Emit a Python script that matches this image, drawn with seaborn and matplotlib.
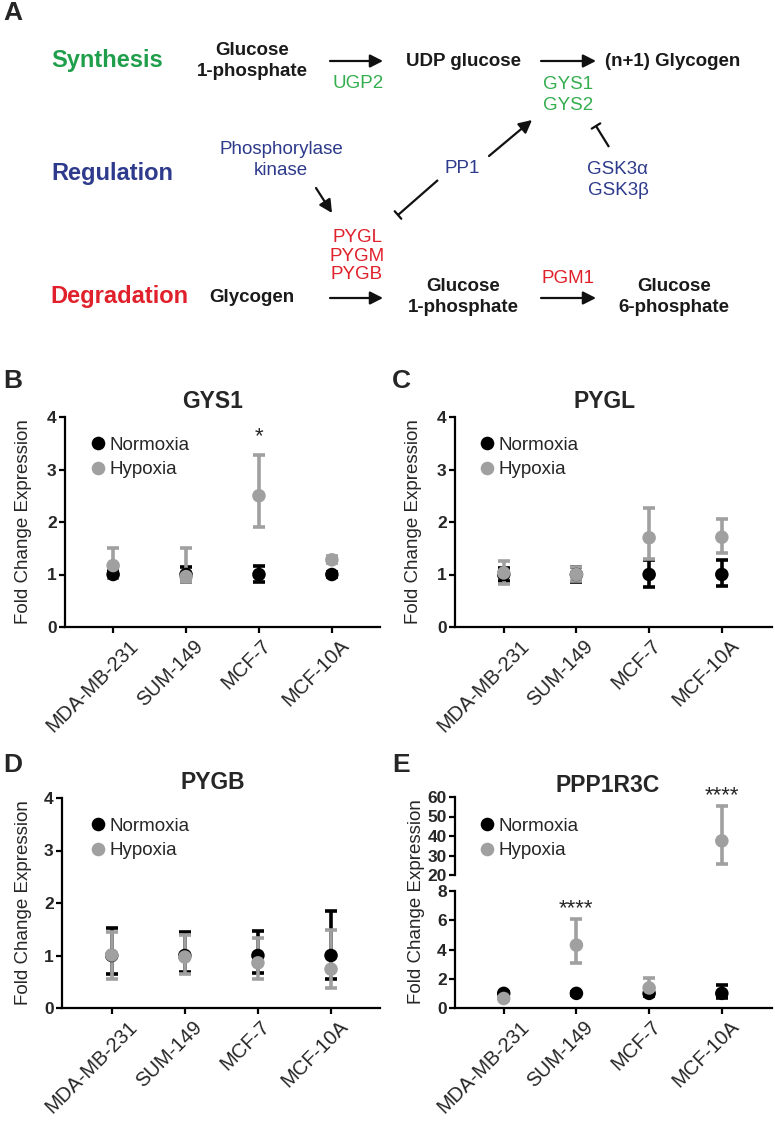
import numpy as np
import pandas as pd
import matplotlib
matplotlib.use("Agg")
import matplotlib.pyplot as plt
import matplotlib.transforms as mtransforms
from matplotlib.lines import Line2D
import seaborn as sns

# ---------------- data ----------------
cell_lines = ["MDA-MB-231", "SUM-149", "MCF-7", "MCF-10A"]
conditions = ["Normoxia", "Hypoxia"]

# GYS1
gys1_norm = [1.0, 1.0, 1.0, 1.0]
gys1_norm_lo = [0.93, 0.85, 0.86, 0.95]
gys1_norm_hi = [1.07, 1.14, 1.16, 1.05]
gys1_hyp = [1.17, 0.96, 2.5, 1.28]
gys1_hyp_lo = [0.93, 0.85, 1.9, 1.22]
gys1_hyp_hi = [1.50, 1.50, 3.27, 1.36]

# PYGL
pygl_norm = [1.0, 1.0, 1.0, 1.0]
pygl_norm_lo = [0.88, 0.85, 0.77, 0.78]
pygl_norm_hi = [1.12, 1.14, 1.28, 1.27]
pygl_hyp = [1.03, 1.0, 1.7, 1.71]
pygl_hyp_lo = [0.82, 0.87, 1.30, 1.41]
pygl_hyp_hi = [1.26, 1.15, 2.27, 2.06]

# PYGB
pygb_norm = [1.0, 1.0, 1.0, 1.0]
pygb_norm_lo = [0.65, 0.69, 0.67, 0.55]
pygb_norm_hi = [1.52, 1.45, 1.47, 1.85]
pygb_hyp = [1.01, 0.97, 0.86, 0.74]
pygb_hyp_lo = [0.55, 0.65, 0.55, 0.38]
pygb_hyp_hi = [1.45, 1.40, 1.34, 1.48]

# PPP1R3C
ppp_norm = [1.0, 1.0, 1.0, 1.0]
ppp_norm_lo = [0.92, 0.88, 0.85, 0.68]
ppp_norm_hi = [1.08, 1.12, 1.15, 1.55]
ppp_hyp = [0.65, 4.3, 1.37, 37.5]
ppp_hyp_lo = [0.55, 3.05, 0.9, 25.6]
ppp_hyp_hi = [0.75, 6.1, 2.02, 55.4]

# significance marks: (cell line, y position, text)
gys1_sig = [("MCF-7", 3.62, "*")]
ppp_sig_lower = [("SUM-149", 6.8, "****")]
ppp_sig_upper = [("MCF-10A", 60.6, "****")]

# ---------------- style ----------------
sns.set_style("ticks")
plt.rcParams["font.family"] = ["Liberation Sans", "DejaVu Sans"]
plt.rcParams["axes.linewidth"] = 1.6

BLACK = "#000000"
GRAY = "#a0a0a0"
GREEN = "#1f9e4b"
GREEN2 = "#35ae4f"
BLUE = "#2e3b8c"
RED = "#e0202a"

W, H = 775, 1122
fig = plt.figure(figsize=(W / 100, H / 100), dpi=100)


def rect(l, t, r, b):
    return [l / W, 1 - b / H, (r - l) / W, (b - t) / H]


# overlay axes in pixel coordinates for the pathway diagram and panel letters
ov = fig.add_axes([0, 0, 1, 1], zorder=-5)
ov.set_xlim(0, W)
ov.set_ylim(H, 0)
ov.axis("off")

# panel letters
for letter, (x, y) in {"A": (13, 13), "B": (13, 381), "C": (401, 381),
                       "D": (13, 765), "E": (401, 765)}.items():
    ov.text(x, y, letter, fontsize=19, fontweight="bold", ha="center", va="center")

# ---------------- panel A diagram ----------------
lab_kw = dict(fontsize=17, fontweight="bold", ha="left", va="center")
ov.text(51, 60, "Synthesis", color=GREEN, **lab_kw)
ov.text(51, 173, "Regulation", color=BLUE, **lab_kw)
ov.text(50, 296, "Degradation", color=RED, **lab_kw)

met_kw = dict(fontsize=13.5, fontweight="bold", ha="center", va="center",
              color="#1a1a1a", linespacing=1.25)
ov.text(252, 61, "Glucose\n1-phosphate", **met_kw)
ov.text(463, 61, "UDP glucose", **met_kw)
ov.text(673, 61, "(n+1) Glycogen", **met_kw)
ov.text(252, 297, "Glycogen", **met_kw)
ov.text(463, 297, "Glucose\n1-phosphate", **met_kw)
ov.text(674, 297, "Glucose\n6-phosphate", **met_kw)

gene_kw = dict(fontsize=13.5, ha="center", va="center", linespacing=1.25)
ov.text(358, 83, "UGP2", color=GREEN2, **gene_kw)
ov.text(568, 95, "GYS1\nGYS2", color=GREEN2, **gene_kw)
ov.text(281, 160, "Phosphorylase\nkinase", color=BLUE, **gene_kw)
ov.text(462, 168, "PP1", color=BLUE, **gene_kw)
ov.text(618, 180, "GSK3\u03b1\nGSK3\u03b2", color=BLUE, **gene_kw)
ov.text(357, 256, "PYGL\nPYGM\nPYGB", color=RED,
        fontsize=13.5, ha="center", va="center", linespacing=1.15)
ov.text(568, 278, "PGM1", color=RED, **gene_kw)

arrow_kw = dict(arrowstyle="-|>,head_length=0.55,head_width=0.28",
                color="#111111", lw=1.6, shrinkA=0, shrinkB=0, mutation_scale=14)
for (x0, y0), (x1, y1) in [((330, 61), (383, 61)), ((541, 61), (596, 61)),
                           ((330, 298), (383, 298)), ((541, 298), (596, 298)),
                           ((489, 156), (532, 120)), ((316, 188), (332, 213))]:
    ov.annotate("", xy=(x1, y1), xytext=(x0, y0), arrowprops=arrow_kw)

for (x0, y0), (x1, y1) in [((609, 147), (596, 126)), ((438, 180), (398, 215))]:
    ov.plot([x0, x1], [y0, y1], color="#111111", lw=1.6, solid_capstyle="butt")
    d = np.array([x1 - x0, y1 - y0], float)
    d /= np.hypot(*d)
    p = np.array([-d[1], d[0]]) * 5
    ov.plot([x1 - p[0], x1 + p[0]], [y1 - p[1], y1 + p[1]], color="#111111", lw=1.6)


# ---------------- chart helpers ----------------
def make_df(norm, nlo, nhi, hyp, hlo, hhi):
    return pd.DataFrame({
        "line": cell_lines * 2,
        "cond": ["Normoxia"] * 4 + ["Hypoxia"] * 4,
        "val": norm + hyp,
        "lo": nlo + hlo,
        "hi": nhi + hhi,
    })


def draw(ax, df):
    sns.scatterplot(data=df, x="line", y="val", hue="cond", hue_order=conditions,
                    palette={"Normoxia": BLACK, "Hypoxia": GRAY}, s=95,
                    edgecolor="none", linewidth=0, legend=False, ax=ax, zorder=5)
    for cond, color, z in [("Normoxia", BLACK, 3), ("Hypoxia", GRAY, 4)]:
        sub = df[df["cond"] == cond]
        ax.errorbar(sub["line"], sub["val"],
                    yerr=[sub["val"] - sub["lo"], sub["hi"] - sub["val"]],
                    fmt="none", ecolor=color, elinewidth=2.6, capsize=4.2,
                    capthick=2.6, zorder=z)


label_axes = []


def style_axes(ax, xlim, bottom=True):
    ax.set_xlim(*xlim)
    ax.set_xlabel("")
    ax.set_ylabel("")
    ax.set_facecolor("none")
    sns.despine(ax=ax, bottom=not bottom)
    for s in ["left", "bottom"]:
        ax.spines[s].set_linewidth(1.6)
        ax.spines[s].set_color("black")
    ax.tick_params(axis="y", length=4.5, width=1.6, pad=1.5, labelsize=12.5,
                   color="black")
    for t in ax.get_yticklabels():
        t.set_fontweight("bold")
    if bottom:
        ax.tick_params(axis="x", length=4.5, width=1.6, pad=2, color="black")
        ax.set_xticks(range(len(cell_lines)))
        ax.set_xticklabels(cell_lines, rotation=45, ha="right", va="top",
                           rotation_mode="anchor", fontsize=14.5)
        label_axes.append(ax)
    else:
        ax.tick_params(axis="x", bottom=False, labelbottom=False)


def add_legend(ax, x_left, y_center):
    handles = [Line2D([], [], ls="", marker="o", markersize=9.8,
                      markerfacecolor=c, markeredgewidth=0)
               for c in (BLACK, GRAY)]
    ax.legend(handles, conditions, loc="center left",
              bbox_to_anchor=(x_left / W, 1 - y_center / H),
              bbox_transform=fig.transFigure, frameon=False, fontsize=13.5,
              handlelength=0.6, handletextpad=0.3, labelspacing=0.38,
              borderpad=0, borderaxespad=0)


def add_title(ax, x_frac, text):
    ax.text(x_frac, 1.072, text, transform=ax.transAxes, fontsize=16.5,
            fontweight="bold", ha="center", va="center")


def add_ylabel(ax, x_axes, y_axes=0.5):
    ax.set_ylabel("Fold Change Expression", fontsize=13.5)
    ax.yaxis.set_label_coords(x_axes, y_axes)


# ---------------- panel B ----------------
axB = fig.add_axes(rect(65, 417, 380, 627))
draw(axB, make_df(gys1_norm, gys1_norm_lo, gys1_norm_hi, gys1_hyp, gys1_hyp_lo, gys1_hyp_hi))
axB.set_ylim(0, 4)
axB.set_yticks([0, 1, 2, 3, 4])
style_axes(axB, (-0.66, 3.66))
add_title(axB, 0.47, "GYS1")
add_legend(axB, 92.5, 457.5)
add_ylabel(axB, -0.105)
for line, y, txt in gys1_sig:
    axB.text(cell_lines.index(line), y, txt, fontsize=16, ha="center", va="center")

# ---------------- panel C ----------------
axC = fig.add_axes(rect(455, 417, 772, 627))
draw(axC, make_df(pygl_norm, pygl_norm_lo, pygl_norm_hi, pygl_hyp, pygl_hyp_lo, pygl_hyp_hi))
axC.set_ylim(0, 4)
axC.set_yticks([0, 1, 2, 3, 4])
style_axes(axC, (-0.67, 3.69))
add_title(axC, 0.473, "PYGL")
add_legend(axC, 481.5, 457.5)
add_ylabel(axC, -0.105)

# ---------------- panel D ----------------
axD = fig.add_axes(rect(62, 798, 380, 1008))
draw(axD, make_df(pygb_norm, pygb_norm_lo, pygb_norm_hi, pygb_hyp, pygb_hyp_lo, pygb_hyp_hi))
axD.set_ylim(0, 4)
axD.set_yticks([0, 1, 2, 3, 4])
style_axes(axD, (-0.68, 3.67))
add_title(axD, 0.475, "PYGB")
add_legend(axD, 92.5, 838.5)
add_ylabel(axD, -0.095)

# ---------------- panel E (broken axis) ----------------
dfE = make_df(ppp_norm, ppp_norm_lo, ppp_norm_hi, ppp_hyp, ppp_hyp_lo, ppp_hyp_hi)
axEu = fig.add_axes(rect(455, 797, 772, 875))
axEl = fig.add_axes(rect(455, 891, 772, 1008))
draw(axEu, dfE)
draw(axEl, dfE)
axEu.set_ylim(20, 60)
axEu.set_yticks([20, 30, 40, 50, 60])
axEl.set_ylim(0, 8)
axEl.set_yticks([0, 2, 4, 6, 8])
style_axes(axEu, (-0.67, 3.69), bottom=False)
style_axes(axEl, (-0.67, 3.69), bottom=True)
add_title(axEu, 0.48, "PPP1R3C")
axEu.texts[-1].set_y(1 + 12 / 78)
add_legend(axEu, 481.5, 838.5)
axEl.set_ylabel("Fold Change Expression", fontsize=13.5)
axEl.yaxis.set_label_coords(-0.095, (1008 - 902) / 117)
for line, y, txt in ppp_sig_lower:
    axEl.text(cell_lines.index(line), y, txt, fontsize=16, ha="center", va="center")
for line, y, txt in ppp_sig_upper:
    axEu.text(cell_lines.index(line), y, txt, fontsize=16, ha="center", va="center",
              clip_on=False)

# rotated x labels: horizontal nudge that grows with the label length
fig.canvas.draw()
renderer = fig.canvas.get_renderer()
for ax in label_axes:
    for t in ax.get_xticklabels():
        bw = t.get_window_extent(renderer).width
        dx = 0.307 * bw - 15.0
        t.set_transform(t.get_transform()
                        + mtransforms.ScaledTranslation(dx / 100, 0, fig.dpi_scale_trans))

fig.savefig("out.png", dpi=100)
